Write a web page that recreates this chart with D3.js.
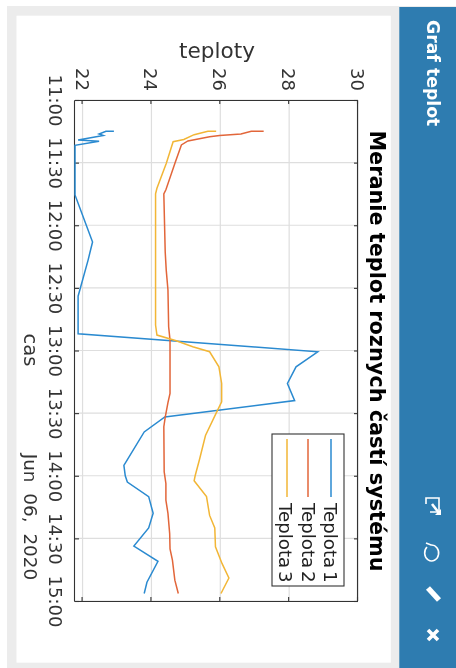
<!DOCTYPE html>
<html>
<head>
<meta charset="utf-8">
<script src="https://cdnjs.cloudflare.com/ajax/libs/d3/7.8.5/d3.min.js"></script>
<style>
html,body{margin:0;padding:0;background:#fff;overflow:hidden;}
text{font-family:"DejaVu Sans",sans-serif;}
svg{filter:blur(0.4px);}
</style>
</head>
<body>
<div id="chart"></div>
<script>
// minutes after 11:00
var teplota1Min=[15,15,16.3,17,19.2,19.8,21.7,45.5,68,72,76.7,94,112,120.6,127.8,135.8,144,151.8,159,175,180,183,190,198,205,213.7,221,231,236.4];
var teplota1Val=[22.91,22.68,22.48,22.6,21.87,22.48,21.78,21.78,22.29,22.23,22.16,21.87,21.87,28.83,28.2,27.95,28.16,24.39,23.79,23.2,23.24,23.3,23.92,24.05,23.92,23.49,24.19,23.87,23.79];
var teplota2Min=[15,15,16.3,17,17.6,19.6,21.5,30.4,43,45,72.7,81.5,91,108.6,115,140.6,145,152,156.5,178,183.7,191.7,198,207.7,215,220.4,230,236.4];
var teplota2Val=[27.26,26.9,26.6,25.98,25.69,25.06,24.87,24.68,24.42,24.36,24.4,24.43,24.48,24.5,24.54,24.54,24.48,24.4,24.36,24.37,24.42,24.42,24.48,24.53,24.54,24.61,24.68,24.78];
var teplota3Min=[15,15,16.6,18.9,20,30.4,42.3,45,107.8,112.6,115.3,118.2,120.6,127.8,135.8,144.6,150,160.7,172,180,182.4,190,199,205,214,222,229,236.4];
var teplota3Val=[25.88,25.64,25.24,24.94,24.63,24.43,24.16,24.12,24.12,24.16,24.72,25.2,25.69,25.96,26.04,26.04,25.88,25.57,25.4,25.27,25.24,25.6,25.69,25.84,25.86,26.05,26.25,26.02];
var seriesNames=["Teplota 1","Teplota 2","Teplota 3"];
var seriesColors=["#2a8ad0","#e2663a","#f2b636"];
var timeTicks=[0,30,60,90,120,150,180,210,240];
var timeLabels=["11:00","11:30","12:00","12:30","13:00","13:30","14:00","14:30","15:00"];
var tempTicks=[22,24,26,28,30];

var W=456,H=668;
var svg=d3.select("#chart").append("svg").attr("width",W).attr("height",H).style("display","block");

// page background, in screen coordinates
svg.append("rect").attr("x",7).attr("y",6).attr("width",W-7).attr("height",H-6).style("fill","#ececec");
svg.append("rect").attr("x",16.5).attr("y",15.7).attr("width",374.3).attr("height",647).style("fill","#fff");
svg.append("rect").attr("x",399.3).attr("y",7).attr("width",W-399.3).attr("height",H-7).style("fill","#2e7cb0");

// page is lying on its side, everything below is drawn in the turned frame
var page=svg.append("g").attr("transform","translate("+W+",0) rotate(90)");

var x=d3.scaleLinear().domain([0,240]).range([100,601]);
var y=d3.scaleLinear().domain([21.78,30]).range([381,98]);

// grid
page.selectAll(".gridx").data(timeTicks).enter().append("line")
	.attr("x1",function(d){return x(d);}).attr("x2",function(d){return x(d);})
	.attr("y1",y.range()[0]).attr("y2",y.range()[1])
	.style("stroke","#dedede").style("stroke-width","1.2px");
page.selectAll(".gridy").data(tempTicks).enter().append("line")
	.attr("y1",function(d){return y(d);}).attr("y2",function(d){return y(d);})
	.attr("x1",x.range()[0]).attr("x2",x.range()[1])
	.style("stroke","#dedede").style("stroke-width","1.2px");

// axes
var axB=page.append("g").attr("transform","translate(0,"+y.range()[0]+")")
	.call(d3.axisBottom(x).tickValues(timeTicks).tickFormat(function(d,i){return timeLabels[i];}).tickSizeInner(-4).tickSizeOuter(0));
var axT=page.append("g").attr("transform","translate(0,"+y.range()[1]+")")
	.call(d3.axisTop(x).tickValues(timeTicks).tickFormat("").tickSizeInner(-4).tickSizeOuter(0));
var axL=page.append("g").attr("transform","translate("+x.range()[0]+",0)")
	.call(d3.axisLeft(y).tickValues(tempTicks).tickSizeInner(-4).tickSizeOuter(0));
var axR=page.append("g").attr("transform","translate("+x.range()[1]+",0)")
	.call(d3.axisRight(y).tickValues(tempTicks).tickFormat("").tickSizeInner(-4).tickSizeOuter(0));
[axB,axT,axL,axR].forEach(function(a){
	a.selectAll("path,line").style("stroke","#333").style("stroke-width","1.1px");
	a.selectAll("text").style("font-size","18px").style("fill","#333");
});
axB.selectAll("text").attr("y",26).attr("dy",0);
axL.selectAll("text").attr("x",-9).attr("dy",0).attr("y",6.5);

// lines
var line=d3.line().x(function(d){return x(d[0]);}).y(function(d){return y(d[1]);});
var allSeries=[d3.zip(teplota1Min,teplota1Val),d3.zip(teplota2Min,teplota2Val),d3.zip(teplota3Min,teplota3Val)];
page.selectAll(".serie").data(allSeries).enter().append("path")
	.attr("d",line)
	.style("fill","none")
	.style("stroke",function(d,i){return seriesColors[i];})
	.style("stroke-width","1.5px");

function label(px,py,txt,size,fill,anchor,weight){
	return page.append("text").attr("x",px).attr("y",py)
		.style("text-anchor",anchor||"start").style("font-size",size+"px")
		.style("font-weight",weight||"normal").style("fill",fill).text(txt);
}

label(351,86,"Meranie teplot roznych častí systému",20.8,"#000","middle","bold");
label(350,432,"cas",19.5,"#333","middle");
label(517,432,"Jun 06, 2020",18.4,"#333","middle").style("word-spacing","5px");
page.append("text").attr("transform","translate(58,"+(W-217)+") rotate(-90)")
	.style("text-anchor","middle").style("font-size","21.6px").style("fill","#333").text("teploty");

// legend
var leg=page.append("g");
leg.append("rect").attr("x",434).attr("y",112).attr("width",152).attr("height",72)
	.style("fill","#fff").style("stroke","#333").style("stroke-width","1.1px");
var legLineY=[125,148,169],legTextY=[132,154,177];
seriesNames.forEach(function(n,i){
	leg.append("line").attr("x1",439).attr("x2",497).attr("y1",legLineY[i]).attr("y2",legLineY[i])
		.style("stroke",seriesColors[i]).style("stroke-width","1.5px");
	leg.append("text").attr("x",503).attr("y",legTextY[i])
		.style("font-size","18.2px").style("word-spacing","-3px").style("fill","#222").text(n);
});

// side bar
label(20,29.5,"Graf teplot",17.3,"#fff","start","bold");

var icons=page.append("g").style("fill","none").style("stroke","#fff").style("stroke-width","1.6px");
icons.append("path").attr("d","M512,26 L512,17 L498,17 L498,30 L504,30");
icons.append("path").attr("d","M504,24 L513,17").style("stroke-width","2.6px");
icons.append("path").attr("d","M509,15 L515,15 L515,21 Z").style("fill","#fff").style("stroke","none");
icons.append("path").attr("d","M543,30 L545,25 A8,7 0 1 1 547,29");
icons.append("path").attr("d","M588,28 L600,17").style("stroke-width","5.5px");
icons.append("path").attr("d","M630,18 L640,28 M640,18 L630,28").style("stroke-width","3.6px");
</script>
</body>
</html>
